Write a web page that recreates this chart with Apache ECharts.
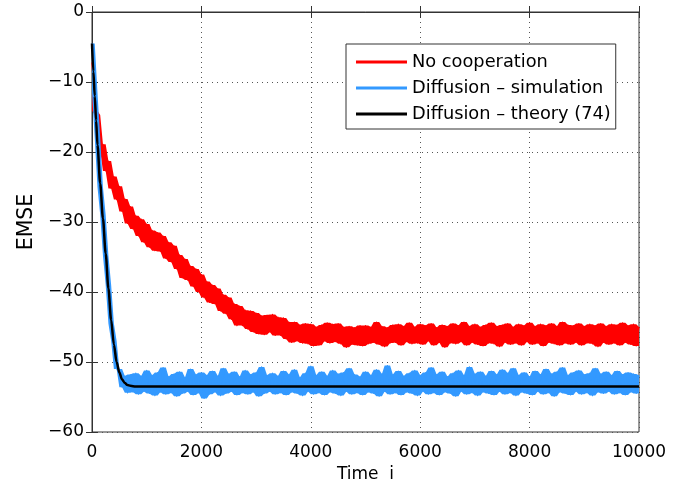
<!DOCTYPE html>
<html>
<head>
<meta charset="utf-8">
<script src="https://cdn.jsdelivr.net/npm/echarts@6/dist/echarts.min.js"></script>
<style>
html,body{margin:0;padding:0;background:#fff;}
#chart{width:685px;height:482px;}
</style>
</head>
<body>
<div id="chart"></div>
<script>
// Sample spacing of the simulated curves (time i)
const timeStep = 50;

const seriesNames = ['No cooperation', 'Diffusion \u2013 simulation', 'Diffusion \u2013 theory (74)'];

// No cooperation (EMSE in dB) at i = 0, 50, 100, ..., 10000
const noCoop = [
 -7.2,-14.1,-14.7,-19.8,-18.9,-22.7,-21.3,-25.2,-23.5,-26.8,
 -24.9,-28.5,-26.7,-30.2,-27.8,-31.0,-29.1,-32.0,-29.6,-32.9,
 -30.3,-33.6,-31.2,-34.1,-31.5,-34.2,-32.0,-35.2,-32.9,-35.7,
 -33.4,-36.7,-34.7,-38.0,-35.3,-38.3,-36.3,-39.2,-36.7,-40.0,
 -37.5,-40.8,-38.5,-41.5,-39.0,-41.7,-39.5,-42.7,-40.4,-43.1,
 -40.8,-43.9,-41.7,-44.8,-42.0,-44.8,-42.6,-45.3,-42.7,-45.7,
 -43.0,-46.0,-43.4,-46.1,-43.3,-45.7,-43.2,-46.2,-43.6,-46.2,
 -43.7,-46.7,-44.3,-47.2,-44.3,-47.0,-44.7,-47.3,-44.5,-47.4,
 -44.6,-47.7,-45.0,-47.6,-44.7,-47.0,-44.4,-47.3,-44.6,-47.1,
 -44.5,-47.4,-45.0,-47.9,-44.9,-47.5,-45.1,-47.6,-44.8,-47.7,
 -44.8,-47.4,-45.0,-47.2,-44.3,-47.5,-44.9,-47.8,-45.1,-47.3,
 -44.7,-47.2,-44.6,-47.6,-44.9,-47.1,-44.4,-47.4,-45.0,-47.3,
 -44.6,-47.5,-44.8,-47.0,-44.5,-47.6,-45.1,-47.2,-44.7,-47.9,
 -44.9,-47.3,-44.5,-47.4,-44.8,-47.1,-44.3,-47.6,-44.9,-47.2,
 -44.6,-47.5,-45.0,-47.7,-44.7,-47.3,-44.4,-47.4,-44.9,-47.8,
 -44.7,-47.2,-44.5,-47.5,-45.0,-47.3,-44.6,-47.6,-44.8,-47.1,
 -44.4,-47.5,-44.9,-47.3,-44.6,-47.7,-44.8,-47.2,-44.5,-47.4,
 -44.9,-47.6,-44.3,-47.3,-44.7,-47.5,-44.8,-47.2,-44.5,-47.6,
 -44.9,-47.3,-44.6,-47.4,-44.8,-47.8,-44.5,-47.2,-44.9,-47.5,
 -44.6,-47.3,-44.7,-47.6,-44.4,-47.2,-44.8,-47.5,-44.6,-47.7,
 -45.0
];

// Diffusion simulation (EMSE in dB) at i = 0, 50, 100, ..., 10000
const diffSim = [
 -4.5,-11.5,-18.0,-25.0,-29.0,-34.8,-39.0,-44.5,-47.0,-51.0,
 -51.0,-53.6,-52.0,-54.4,-51.8,-54.3,-51.6,-54.6,-52.0,-54.2,
 -51.2,-54.5,-51.9,-54.8,-51.5,-54.3,-50.8,-54.6,-52.1,-54.4,
 -51.7,-54.9,-51.4,-54.5,-52.2,-54.2,-51.0,-54.7,-51.8,-54.4,
 -51.5,-55.2,-51.9,-54.6,-51.3,-54.3,-52.0,-54.8,-50.9,-54.5,
 -51.7,-54.2,-51.4,-54.7,-52.1,-54.4,-51.2,-54.6,-51.8,-54.3,
 -51.5,-54.9,-50.7,-54.5,-51.9,-54.2,-51.6,-54.6,-52.0,-54.4,
 -51.3,-54.7,-51.8,-54.3,-51.1,-54.5,-52.2,-54.8,-51.6,-54.2,
 -50.6,-54.6,-51.9,-54.4,-51.4,-54.7,-52.0,-54.3,-51.2,-54.5,
 -51.7,-54.8,-51.5,-54.2,-50.9,-54.6,-51.8,-54.4,-52.1,-54.7,
 -51.4,-54.3,-51.9,-54.5,-51.1,-54.9,-51.7,-54.2,-50.5,-54.6,
 -51.8,-54.4,-51.3,-54.7,-52.0,-54.3,-51.6,-54.5,-51.2,-54.8,
 -51.9,-54.2,-51.5,-54.6,-50.8,-54.4,-51.8,-54.7,-51.4,-54.3,
 -52.1,-54.5,-51.6,-54.9,-51.2,-54.2,-51.9,-54.6,-50.7,-54.4,
 -51.7,-54.8,-51.4,-54.3,-52.0,-54.5,-51.3,-54.7,-51.8,-54.2,
 -51.1,-54.6,-51.6,-54.4,-50.9,-54.8,-51.9,-54.3,-51.5,-54.5,
 -52.1,-54.7,-51.3,-54.2,-51.8,-54.6,-51.0,-54.4,-51.7,-54.9,
 -51.4,-54.3,-50.8,-54.5,-51.9,-54.7,-51.5,-54.2,-51.2,-54.6,
 -51.8,-54.4,-51.6,-54.8,-50.9,-54.3,-51.7,-54.5,-51.4,-54.2,
 -51.9,-54.6,-51.3,-54.4,-51.8,-54.7,-51.5,-54.3,-51.7,-54.5,
 -51.9
];

// Diffusion theory (74): time points and EMSE values
const theoryTime = [0,25,50,75,100,150,200,250,300,350,400,450,500,550,600,650,700,800,1000,10000];
const theoryEMSE = [-4.5,-8.5,-12,-15.5,-19,-24.5,-29.5,-34.5,-39.5,-44,-47.5,-50,-51.5,-52.5,-53,-53.3,-53.4,-53.5,-53.5,-53.5];

// Axis ticks
const xTicks = [0, 2000, 4000, 6000, 8000, 10000];
const yTicks = [-60, -50, -40, -30, -20, -10, 0];

const font = '"DejaVu Sans", sans-serif';

const toPairs = arr => arr.map((v, k) => [k * timeStep, v]);
const fmtNum = v => (v < 0 ? '\u2212' + Math.abs(v) : String(v));

// Noise band: running min / max of neighbouring samples, drawn as one polygon through the axes' scales
function bandSeries(arr, color, z) {
  const n = arr.length;
  const rows = arr.map((v, k) => {
    const a = arr[Math.max(k - 1, 0)], b = arr[Math.min(k + 1, n - 1)];
    return [k * timeStep, Math.min(a, v, b), Math.max(a, v, b)];
  });
  return {
    type: 'custom', data: rows, silent: true, z: z, clip: true,
    encode: {x: 0, y: [1, 2]},
    renderItem: function (params, api) {
      if (params.dataIndex !== 0) return null;
      const top = rows.map(r => api.coord([r[0], r[2]]));
      const bot = rows.map(r => api.coord([r[0], r[1]])).reverse();
      return {type: 'polygon', shape: {points: top.concat(bot)}, style: {fill: color, stroke: null}};
    }
  };
}

const chart = echarts.init(document.getElementById('chart'), null, {renderer: 'canvas'});

const gridLine = {show: true, lineStyle: {color: '#555', width: 1, type: [1, 4]}};

const red = '#ff0000', blue = '#3399ff';

chart.setOption({
  animation: false,
  backgroundColor: '#fff',
  grid: {left: 92, right: 46, top: 12, bottom: 50, outerBoundsMode: 'none', containLabel: false,
         show: true, borderColor: '#333', borderWidth: 1, backgroundColor: 'transparent'},
  legend: {
    data: seriesNames,
    left: 346, top: 44,
    orient: 'vertical',
    backgroundColor: '#fff',
    borderColor: '#333', borderWidth: 1,
    padding: [8, 5, 5, 10],
    itemGap: 6,
    itemWidth: 51, itemHeight: 3,
    icon: 'rect',
    textStyle: {fontFamily: font, fontSize: 17.8, color: '#000', lineHeight: 20}
  },
  xAxis: [{
    type: 'value', min: xTicks[0], max: xTicks[xTicks.length - 1], interval: 2000,
    name: 'Time  i', nameLocation: 'middle', nameGap: 31,
    nameTextStyle: {fontFamily: font, fontSize: 17, color: '#000'},
    axisLine: {show: true, lineStyle: {color: '#333'}},
    axisTick: {show: true, inside: true, length: 6, lineStyle: {color: '#333'}},
    axisLabel: {fontFamily: font, fontSize: 17, color: '#000', margin: 12, formatter: fmtNum},
    splitLine: gridLine
  }, {
    type: 'value', position: 'top', min: xTicks[0], max: xTicks[xTicks.length - 1], interval: 2000,
    axisLine: {show: true, lineStyle: {color: '#333'}},
    axisTick: {show: true, inside: true, length: 6, lineStyle: {color: '#333'}},
    axisLabel: {show: false}, splitLine: {show: false}
  }],
  yAxis: [{
    type: 'value', min: yTicks[0], max: yTicks[yTicks.length - 1], interval: 10,
    name: 'EMSE', nameLocation: 'middle', nameGap: 54, nameRotate: 90,
    nameTextStyle: {fontFamily: font, fontSize: 20.5, color: '#000'},
    axisLine: {show: true, lineStyle: {color: '#333'}},
    axisTick: {show: true, inside: true, length: 6, lineStyle: {color: '#333'}},
    axisLabel: {fontFamily: font, fontSize: 17, color: '#000', margin: 8, formatter: fmtNum},
    splitLine: gridLine
  }, {
    type: 'value', position: 'right', min: yTicks[0], max: yTicks[yTicks.length - 1], interval: 10,
    axisLine: {show: true, lineStyle: {color: '#333'}},
    axisTick: {show: true, inside: true, length: 6, lineStyle: {color: '#333'}},
    axisLabel: {show: false}, splitLine: {show: false}
  }],
  series: [
    bandSeries(noCoop, red, 2),
    {
      name: seriesNames[0], type: 'line', data: toPairs(noCoop), showSymbol: false, symbol: 'none',
      lineStyle: {color: red, width: 1.2, join: 'round'}, itemStyle: {color: red}, z: 2
    },
    bandSeries(diffSim, blue, 3),
    {
      name: seriesNames[1], type: 'line', data: toPairs(diffSim), showSymbol: false, symbol: 'none',
      lineStyle: {color: blue, width: 1.2, join: 'round'}, itemStyle: {color: blue}, z: 3
    },
    {
      name: seriesNames[2], type: 'line', data: theoryTime.map((t, k) => [t, theoryEMSE[k]]),
      showSymbol: false, symbol: 'none', smooth: 0.3, smoothMonotone: 'x',
      lineStyle: {color: '#000', width: 2.5}, itemStyle: {color: '#000'}, z: 4
    }
  ]
});
</script>
</body>
</html>
